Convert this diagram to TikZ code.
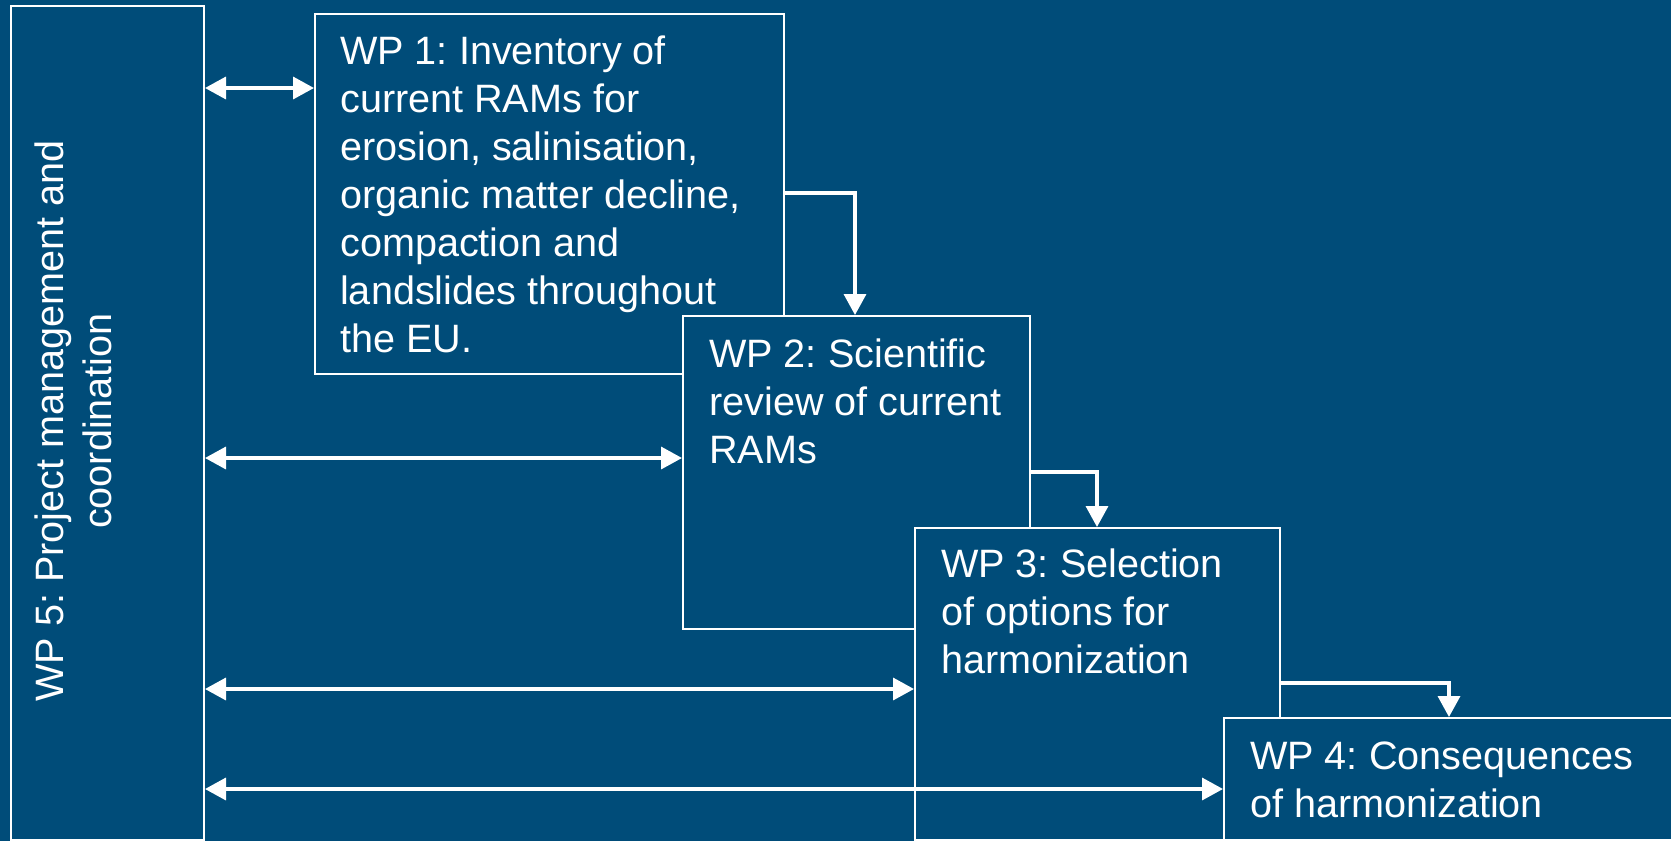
\documentclass[tikz,border=0pt]{standalone}
\usepackage{fontspec}
\setmainfont{Liberation Sans}
\usetikzlibrary{arrows.meta}
\definecolor{bg}{RGB}{0,76,121}
\tikzset{
  box/.style={draw=white, line width=2pt, fill=bg, rectangle, inner sep=0pt, anchor=north west},
  lbl/.style={text=white, inner sep=0pt, anchor=base west, font=\fontsize{39.6}{48}\selectfont\frenchspacing},
  flow/.style={draw=white, line width=3.5pt, -{Triangle[length=21pt,width=22pt]}},
  both/.style={draw=white, line width=3.5pt, {Triangle[length=21pt,width=22pt]}-{Triangle[length=21pt,width=22pt]}}
}
\begin{document}
\begin{tikzpicture}[x=1pt,y=-1pt]
\fill[bg] (0,0) rectangle (1671,841);
\useasboundingbox (0,0) rectangle (1671,841);
\node[box, minimum width=193, minimum height=834] (wp5) at (10,5) {};
\node[box, minimum width=469, minimum height=360] (wp1) at (314,13) {};
\node[box, minimum width=347, minimum height=313] (wp2) at (682,315) {};
\node[box, minimum width=365, minimum height=312] (wp3) at (914,527) {};
\node[box, minimum width=460, minimum height=122] (wp4) at (1223,717) {};
\node[lbl] (t1) at (340,64) {\parbox[t]{460pt}{\raggedright WP 1: Inventory of\\current RAMs for\\erosion, salinisation,\\organic matter decline,\\compaction and\\landslides throughout\\the EU.}};
\node[lbl] (t2) at (709,367) {\parbox[t]{340pt}{\raggedright WP 2: Scientific\\review of current\\RAMs}};
\node[lbl] (t3) at (941,577) {\parbox[t]{350pt}{\raggedright WP 3: Selection\\of options for\\harmonization}};
\node[lbl] (t4) at (1250,769) {\parbox[t]{420pt}{\raggedright WP 4: Consequences\\of harmonization}};
\node[lbl, anchor=base, rotate=90] (t5) at (63,421) {\parbox[t]{800pt}{\centering WP 5: Project management and\\coordination}};
% flow connectors
\draw[flow] ([yshift=-180pt]wp1.north east) -| ([xshift=173pt]wp2.north west);
\draw[flow] ([yshift=-157pt]wp2.north east) -| ([xshift=183pt]wp3.north west);
\draw[flow] ([yshift=-156pt]wp3.north east) -| ([xshift=226pt]wp4.north west);
% double arrows
\draw[both] ([yshift=-83pt]wp5.north east) -- (wp1.west |- {0,88});
\draw[both] ([yshift=-453pt]wp5.north east) -- (wp2.west |- {0,458});
\draw[both] ([yshift=-684pt]wp5.north east) -- (wp3.west |- {0,689});
\draw[both] ([yshift=-784pt]wp5.north east) -- (wp4.west |- {0,789});
\end{tikzpicture}
\end{document}
